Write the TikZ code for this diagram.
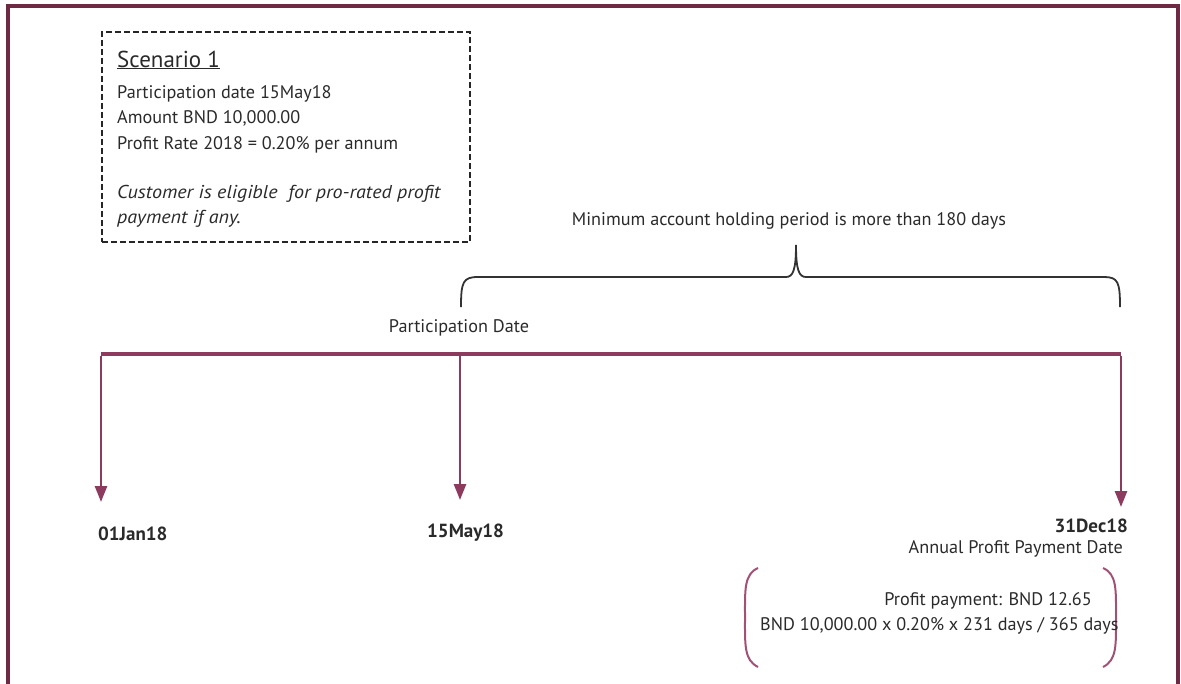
\documentclass[tikz,border=0pt]{standalone}
\usepackage{fontspec}
\usepackage{graphicx}
\setmainfont{PT Sans}
\usetikzlibrary{arrows.meta}
\definecolor{frame}{HTML}{6D2A42}
\definecolor{tline}{HTML}{8C3B5E}
\definecolor{brk}{HTML}{A05276}
\definecolor{txt}{HTML}{2A2A2A}
\tikzset{
  txtnode/.style={inner sep=0pt, text=txt, font=\fontsize{18.2}{20}\selectfont},
  itnode/.style={inner sep=0pt, text=txt, font=\fontsize{18.6}{20}\selectfont\itshape},
  datenode/.style={inner sep=0pt, text=txt, font=\fontsize{19}{20}\selectfont\bfseries},
  tl/.style={draw=tline, line width=3.5pt},
  arr/.style={draw=tline, line width=2.5pt, -{Triangle[width=12pt,length=16pt]}},
  bracketline/.style={draw=brk, line width=2pt},
  braceline/.style={draw=black!80, line width=1.8pt},
}
\begin{document}
\begin{tikzpicture}[x=1pt,y=-1pt]
\useasboundingbox (0,0) rectangle (1181,683);
% frame
\draw[frame, line width=4.5pt] (8,690) -- (8,6) -- (1178,6) -- (1178,690);
% scenario box
\node[draw=black!85, dash pattern=on 6pt off 3pt, line width=1.6pt, minimum width=368pt, minimum height=210pt, anchor=north west, inner sep=0pt] (box) at (101,31) {};
\node[txtnode, anchor=base west, font=\fontsize{23}{26}\selectfont] (scen) at (117,67) {\underline{Scenario 1}};
\node[txtnode, anchor=base west] (l1) at (117,98) {Participation date 15May18};
\node[txtnode, anchor=base west] (l2) at (117,123) {Amount BND 10,000.00};
\node[txtnode, anchor=base west] (l3) at (117,149) {Profit Rate 2018 = 0.20\% per annum};
\node[itnode, anchor=base west] (l4) at (117,198) {\scalebox{1.08}[1]{Customer is eligible \ for pro-rated profit}};
\node[itnode, anchor=base west] (l5) at (117,223) {\scalebox{1.08}[1]{payment if any.}};
% brace
\node[txtnode, anchor=base] (minp) at (789,225) {Minimum account holding period is more than 180 days};
\coordinate (bl) at (461,307);
\coordinate (br) at (1120,307);
\coordinate (bm) at (796,245);
\draw[braceline] (bl) .. controls (461,282) and (463,277) .. (478,277) -- (786,277)
  .. controls (793,277) and (796,270) .. (bm)
  .. controls (796,270) and (799,277) .. (806,277) -- (1104,277)
  .. controls (1118,277) and (1120,282) .. (br);
\node[txtnode, anchor=base] (pd) at (459,332) {Participation Date};
% timeline
\coordinate (t1) at (101,354);
\coordinate (t2) at (460,354);
\coordinate (t3) at (1121,354);
\coordinate (e1) at (101,502);
\coordinate (e2) at (460,500);
\coordinate (e3) at (1121,507);
\draw[tl] (t1) -- (t3);
\draw[arr] ([yshift=-1.5pt]t1) -- (e1);
\draw[arr] (t2) -- (e2);
\draw[arr] ([yshift=-1.5pt]t3) -- (e3);
% dates
\node[datenode, anchor=base west] (d1) at (98,540) {01Jan18};
\node[datenode, anchor=base west] (d2) at (427,537) {15May18};
\node[datenode, anchor=base east] (d3) at (1128,532) {31Dec18};
\node[txtnode, anchor=base east] (apd) at (1123,553) {Annual Profit Payment Date};
% profit bracket
\draw[bracketline] (758,568) .. controls (744,574) and (745,590) .. (745,617) .. controls (745,645) and (744,660) .. (758,667);
\draw[bracketline] (1103,568) .. controls (1117,574) and (1116,590) .. (1116,617) .. controls (1116,645) and (1117,660) .. (1103,667);
\node[txtnode, anchor=base east] (pp) at (1092,605) {Profit payment: BND 12.65};
\node[txtnode, anchor=base west] (calc) at (760,630) {BND 10,000.00 x 0.20\% x 231 days / 365 days};
\end{tikzpicture}
\end{document}
